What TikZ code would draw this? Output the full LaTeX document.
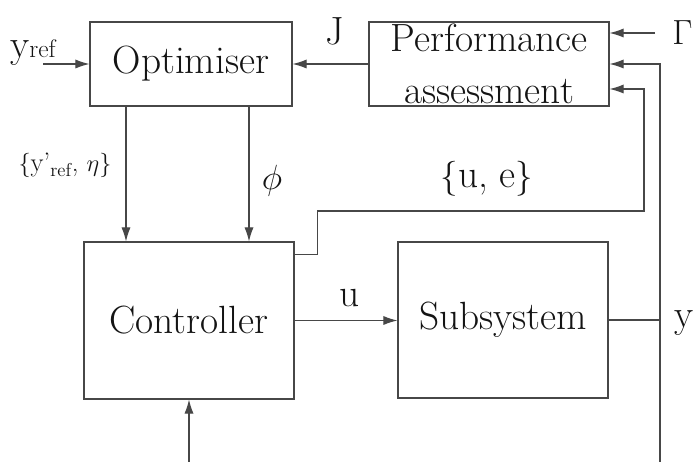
\documentclass[tikz,border=0pt]{standalone}
\usepackage{tikz}
\usetikzlibrary{calc,positioning,arrows.meta}
\definecolor{wire}{HTML}{474747}
\definecolor{ink}{HTML}{141414}

\tikzset{
  block/.style={draw=wire, line width=0.8pt, inner sep=0pt, align=center,
    font=\fontsize{28}{37}\selectfont, text=ink},
  lab/.style={inner sep=0pt, font=\fontsize{28}{34}\selectfont, text=ink},
  smalllab/.style={inner sep=0pt, font=\fontsize{19}{22}\selectfont, text=ink},
  sig/.style={draw=wire, line width=0.8pt, -{Latex[length=10pt,width=6.5pt]}},
  link/.style={draw=wire, line width=0.8pt}
}

\begin{document}
\begin{tikzpicture}
\useasboundingbox (0,0) rectangle (17.375,11.55);

% Blocks
\node[block, minimum width=5.05cm, minimum height=2.1cm] (opt) at (4.775, 9.95) {Optimiser};
\node[block, minimum width=6cm, minimum height=2.1cm] (perf) at (12.225, 9.95) {Performance\\assessment};
\node[block, minimum width=5.25cm, minimum height=3.925cm] (ctrl) at (4.725, 3.5375) {Controller};
\node[block, minimum width=5.25cm, minimum height=3.9cm] (sub) at (12.575, 3.55) {Subsystem};

% Free ends
\coordinate (yrefin) at (1.075, 9.95);
\coordinate (gamin) at (16.375, 10.725);
\coordinate (ybot) at (16.5, 0);
\coordinate (cbot) at (4.725, 0);

% Connectors
\draw[sig] (yrefin) -- (opt.west);
\draw[sig] (perf.west) -- (opt.east);
\draw[sig] (gamin) -- (gamin -| perf.east);
\draw[sig] ([xshift=-1.625cm]opt.south) -- ([xshift=-1.625cm]opt.south |- ctrl.north);
\draw[sig] ([xshift=1.45cm]opt.south) -- ([xshift=1.45cm]opt.south |- ctrl.north);
\draw[sig] (ctrl.east) -- (ctrl.east -| sub.west);
\draw[sig] (cbot) -- (ctrl.south);
\draw[link] (sub.east) -- (sub.east -| ybot);
\draw[sig] (ybot) |- (perf.east);
\draw[sig] ([yshift=-0.325cm]ctrl.north east) -- ++(0.575,0) |- (16.1,6.275) |- ([yshift=-0.625cm]perf.east);

% Labels
\node[lab, anchor=base west] (yref) at (0.25, 10.1) {y{\fontsize{18}{20}\selectfont ref}};
\node[lab, anchor=base] (jlab) at (8.375, 10.425) {J};
\node[lab, anchor=base west] (gamlab) at (16.8, 10.425) {$\Gamma$};
\node[smalllab, anchor=base] (yetalab) at (1.625, 7.25) {$\{$y’\textsubscript{ref}, $\eta\}$};
\node[lab, anchor=base] (philab) at (6.8, 6.8) {$\phi$};
\node[lab, anchor=base] (uelab) at (12.175, 6.85) {$\{$u, e$\}$};
\node[lab, anchor=base] (ulab) at (8.75, 3.875) {u};
\node[lab, anchor=base west] (ylab) at (16.85, 3.35) {y};

\end{tikzpicture}
\end{document}
